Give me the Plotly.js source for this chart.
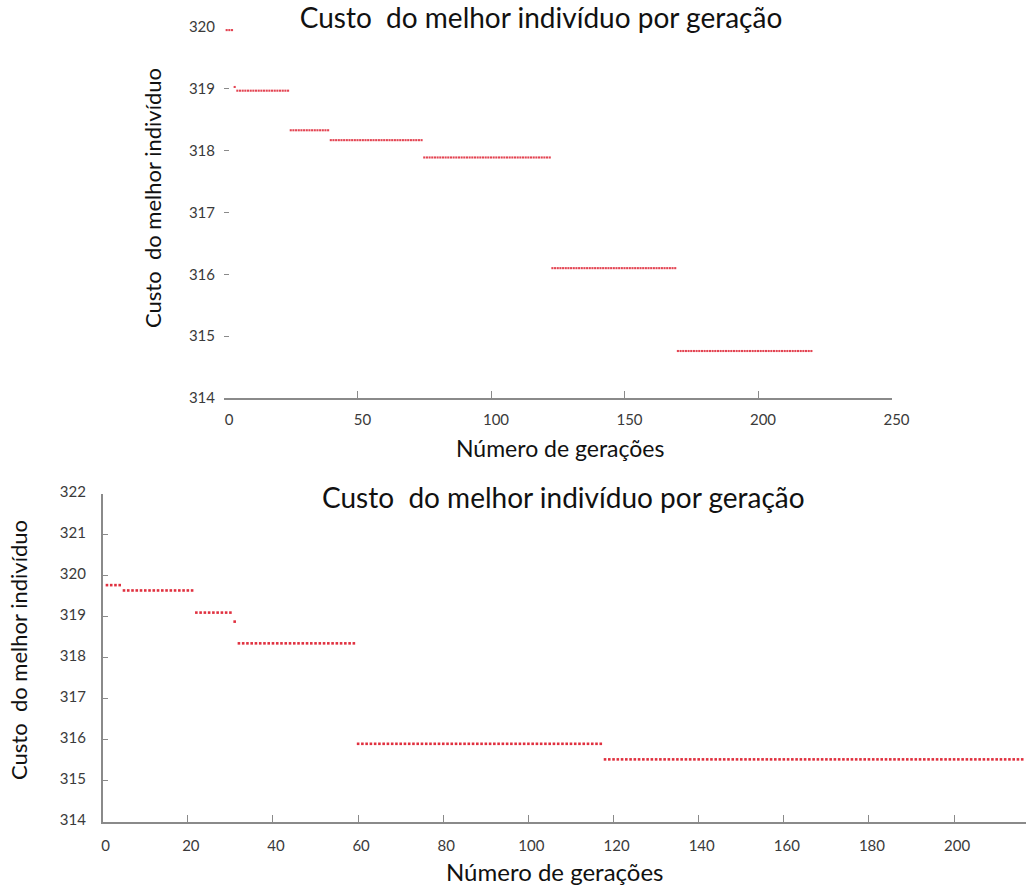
<!DOCTYPE html>
<html>
<head>
<meta charset="utf-8">
<script src="https://cdn.plot.ly/plotly-3.0.1.min.js"></script>
<style>html,body{margin:0;padding:0;background:#fff;}#chart{width:1026px;height:886px;}</style>
</head>
<body>
<div id="chart"></div>
<script>
// ---- Data (run-length: one point per generation) ----
// Top chart
const topStartGen = 1;
const topCosts = [319.95, 319.03, 318.97, 318.33, 318.17, 317.89, 316.10, 314.76];
const topRuns  = [3, 1, 20, 15, 35, 48, 47, 51];
const topXTicks = [0, 50, 100, 150, 200, 250];
const topYTicks = [314, 315, 316, 317, 318, 319, 320];

// Bottom chart
const botStartGen = 1;
const botCosts = [319.77, 319.64, 319.10, 318.88, 318.35, 315.90, 315.52];
const botRuns  = [4, 17, 9, 1, 28, 58, 99];
const botXTicks = [0, 20, 40, 60, 80, 100, 120, 140, 160, 180, 200];
const botYTicks = [314, 315, 316, 317, 318, 319, 320, 321, 322];

const titleText = "Custo  do melhor indivíduo por geração";
const xTitleText = "Número de gerações";
const yTitleText = "Custo  do melhor indivíduo";

function expand(start, costs, runs) {
  const xs = [], ys = [];
  let g = start;
  for (let i = 0; i < costs.length; i++) {
    for (let k = 0; k < runs[i]; k++) { xs.push(g); ys.push(costs[i]); g++; }
  }
  return {xs, ys};
}
const T = expand(topStartGen, topCosts, topRuns);
const B = expand(botStartGen, botCosts, botRuns);

const W = 1026, H = 886;
const px = v => v / W;
const py = v => 1 - v / H;

const FONT = "Lato, 'Open Sans', sans-serif";
const red = "#e0303f";

const traces = [
  {x: T.xs, y: T.ys, xaxis: 'x', yaxis: 'y', type: 'scatter', mode: 'markers',
   marker: {symbol: 'square', size: 2.1, color: red, opacity: 0.9, line: {width: 0}}, cliponaxis: false,
   name: 'topo', showlegend: false, hoverinfo: 'x+y'},
  {x: B.xs, y: B.ys, xaxis: 'x2', yaxis: 'y2', type: 'scatter', mode: 'markers',
   marker: {symbol: 'square', size: 2.6, color: red, line: {width: 0}}, cliponaxis: false,
   name: 'baixo', showlegend: false, hoverinfo: 'x+y'}
];

const axisGray = '#8a8a8a';
const tickFont = {family: FONT, size: 15, color: '#3a3a3a'};

const layout = {
  width: W, height: H,
  margin: {l: 0, r: 0, t: 0, b: 0, pad: 0},
  paper_bgcolor: '#fff', plot_bgcolor: 'rgba(0,0,0,0)',
  showlegend: false,
  title: {text: titleText, x: px(541), xanchor: 'center', y: py(18), yanchor: 'middle',
          xref: 'paper', yref: 'container', font: {family: FONT, size: 28, color: '#111'}},
  xaxis: {domain: [px(224), px(891.5)], range: [0, 250], anchor: 'y',
          showgrid: false, zeroline: false, showline: true, linecolor: axisGray, linewidth: 1.5,
          ticks: 'inside', ticklen: 7, tickwidth: 1.2, tickcolor: axisGray,
          tickmode: 'array', tickvals: topXTicks, ticktext: topXTicks.map(String),
          tickfont: tickFont, ticklabelstandoff: 7, ticklabelshift: 5},
  yaxis: {domain: [py(398), py(27)], range: [314, 320], anchor: 'x',
          showgrid: false, zeroline: false, showline: false,
          ticks: 'inside', ticklen: 5, tickwidth: 1.2, tickcolor: axisGray,
          tickmode: 'array', tickvals: topYTicks, ticktext: topYTicks.map(String),
          tickfont: tickFont, ticklabelstandoff: 8},
  xaxis2: {domain: [px(102.7), 1], range: [0, (W - 102.7) / 4.257], anchor: 'y2',
           showgrid: false, zeroline: false, showline: true, linecolor: axisGray, linewidth: 1.5,
           ticks: 'inside', ticklen: 7, tickwidth: 1.2, tickcolor: axisGray,
           tickmode: 'array', tickvals: botXTicks, ticktext: botXTicks.map(String),
           tickfont: tickFont, ticklabelstandoff: 10, ticklabelshift: 3},
  yaxis2: {domain: [py(821.7), py(493.7)], range: [314, 322], anchor: 'x2',
           showgrid: false, zeroline: false, showline: true, linecolor: axisGray, linewidth: 1.5,
           ticks: 'inside', ticklen: 6, tickwidth: 1.2, tickcolor: axisGray,
           tickmode: 'array', tickvals: botYTicks, ticktext: botYTicks.map(String),
           tickfont: tickFont, ticklabelstandoff: 12, ticklabelshift: -2},
  annotations: [
    {text: xTitleText, xref: 'paper', yref: 'paper', x: px(560), y: py(448),
     xanchor: 'center', yanchor: 'middle', showarrow: false,
     font: {family: FONT, size: 23, color: '#111'}},
    {text: yTitleText, xref: 'paper', yref: 'paper', x: px(152), y: py(198), textangle: -90,
     xanchor: 'center', yanchor: 'middle', showarrow: false,
     font: {family: FONT, size: 22, color: '#111'}},
    {text: titleText, xref: 'paper', yref: 'paper', x: px(563), y: py(497),
     xanchor: 'center', yanchor: 'middle', showarrow: false,
     font: {family: FONT, size: 28, color: '#111'}},
    {text: xTitleText, xref: 'paper', yref: 'paper', x: px(555), y: py(871),
     xanchor: 'center', yanchor: 'middle', showarrow: false,
     font: {family: FONT, size: 24, color: '#111'}},
    {text: yTitleText, xref: 'paper', yref: 'paper', x: px(18), y: py(650), textangle: -90,
     xanchor: 'center', yanchor: 'middle', showarrow: false,
     font: {family: FONT, size: 22, color: '#111'}}
  ]
};

Plotly.newPlot('chart', traces, layout, {displayModeBar: false, responsive: false});
</script>
</body>
</html>
